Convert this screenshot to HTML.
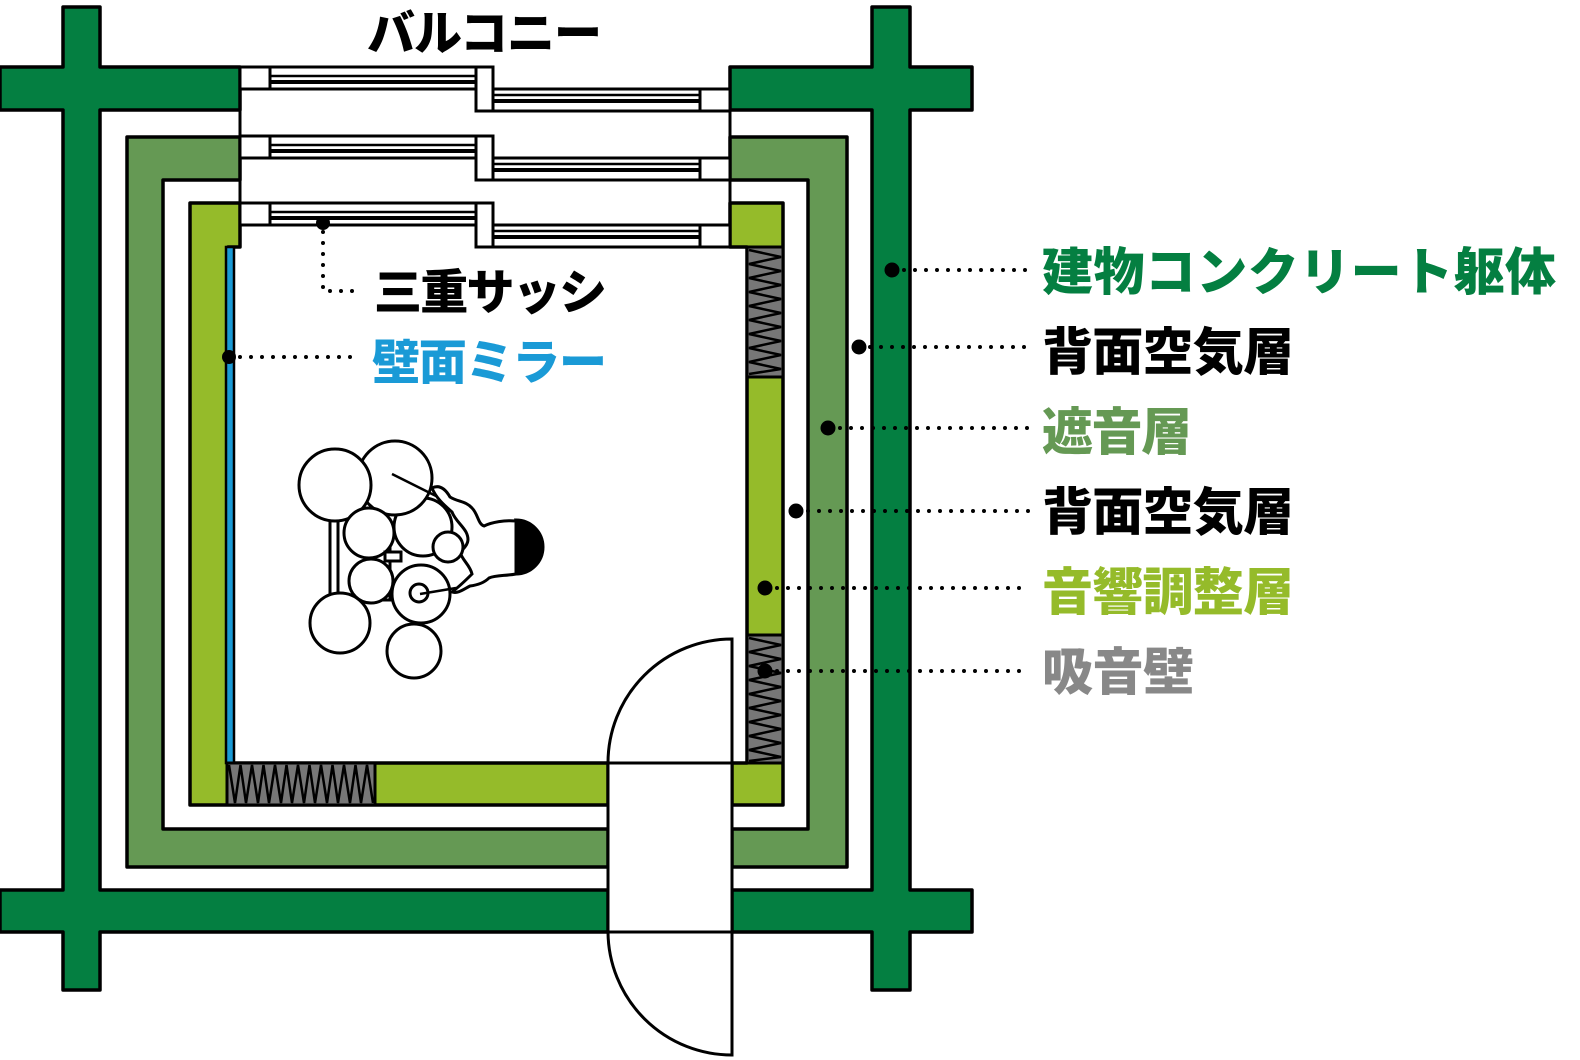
<!DOCTYPE html>
<html><head><meta charset="utf-8"><style>
html,body{margin:0;padding:0;background:#fff;}
svg{display:block;}
text{font-family:"Liberation Sans","Noto Sans CJK JP",sans-serif;font-weight:900;}
</style></head><body>
<svg width="1580" height="1060" viewBox="0 0 1580 1060" xmlns="http://www.w3.org/2000/svg">
<g stroke="#000" stroke-width="3.5" stroke-linejoin="round">
<path fill="#047f41" d="M63,7 H100 V67 H240 V110 H100 V890 H608 V932 H100 V990 H63 V932 H0 V890 H63 V110 H0 V67 H63 Z"/>
<path fill="#047f41" d="M872,7 H910 V67 H972 V110 H910 V890 H972 V932 H910 V990 H872 V932 H732 V890 H872 V110 H730 V67 H872 Z"/>
<path fill="#659954" d="M127,137 H240 V180 H163 V829 H608 V867 H127 Z"/>
<path fill="#659954" d="M730,137 H847 V867 H732 V829 H808 V180 H730 Z"/>
<path fill="#95bb2a" d="M190,203 H240 V247 H228 V763 H608 V805 H190 Z"/>
<path fill="#95bb2a" d="M730,203 H783 V805 H732 V763 H747 V247 H730 Z"/>
</g>
<rect x="226" y="247" width="8" height="516" fill="#1a9ad6" stroke="#000" stroke-width="2.5"/>
<g stroke="#000" stroke-width="3">
<rect x="747" y="247" width="36" height="130" fill="#777"/>
<rect x="747" y="635" width="36" height="128" fill="#777"/>
<rect x="227" y="763" width="148" height="42" fill="#777"/>
</g>
<g fill="none" stroke="#000" stroke-width="2.5">
<path d="M749,250 L781,257 L749,264 L781,271 L749,278 L781,285 L749,292 L781,299 L749,306 L781,313 L749,320 L781,327 L749,334 L781,341 L749,348 L781,355 L749,362 L781,369 L749,374"/>
<path d="M749,638 L781,645 L749,652 L781,659 L749,666 L781,673 L749,680 L781,687 L749,694 L781,701 L749,708 L781,715 L749,722 L781,729 L749,736 L781,743 L749,750 L781,757 L749,761"/>
<path d="M229,765 L235,803 L240.5,765 L246,803 L252,765 L258,803 L263.5,765 L269,803 L275,765 L281,803 L286.5,765 L292,803 L298,765 L304,803 L309.5,765 L315,803 L321,765 L327,803 L332.5,765 L338,803 L344,765 L350,803 L355.5,765 L361,803 L367,765 L373,803"/>
</g>
<g fill="#fff" stroke="#000" stroke-width="3">
<line x1="240" y1="67" x2="240" y2="247"/>
<line x1="730" y1="67" x2="730" y2="247"/>
</g>
<g id="win">
<g fill="#fff" stroke="#000" stroke-width="3">
<rect x="240" y="67" width="236" height="22"/>
<rect x="493" y="89" width="237" height="22"/>
<rect x="476" y="67" width="17" height="44"/>
<line x1="270" y1="67" x2="270" y2="89"/>
<line x1="700" y1="89" x2="700" y2="111"/>
</g>
<line x1="270" y1="76" x2="476" y2="76" stroke="#000" stroke-width="2.5"/>
<line x1="270" y1="82" x2="476" y2="82" stroke="#000" stroke-width="4"/>
<line x1="493" y1="95" x2="700" y2="95" stroke="#000" stroke-width="2.5"/>
<line x1="493" y1="101" x2="700" y2="101" stroke="#000" stroke-width="4"/>
</g>
<use href="#win" y="69"/>
<use href="#win" y="136"/>
<g fill="#fff" stroke="#000" stroke-width="3">
<rect x="608" y="763" width="124" height="169"/>
<path d="M732,639 A124,124 0 0 0 608,763 H732 Z"/>
<path d="M732,1055 A124,124 0 0 1 608,932 H732 Z"/>
</g>
<g fill="#fff" stroke="#000" stroke-width="3">
<line x1="330" y1="518" x2="330" y2="600"/>
<line x1="338" y1="518" x2="338" y2="600"/>
<line x1="390" y1="520" x2="390" y2="600"/>
<line x1="330" y1="600" x2="395" y2="600"/>
<circle cx="423" cy="527" r="29"/>
<circle cx="395" cy="478" r="37"/>
<circle cx="335" cy="485" r="36"/>
<circle cx="369" cy="533" r="25"/>
<circle cx="371" cy="581" r="22"/>
<rect x="385" y="552" width="16" height="9"/>
<circle cx="340" cy="623" r="30"/>
<circle cx="421" cy="594" r="29"/>
<circle cx="419" cy="593" r="9"/>
<circle cx="414" cy="651" r="27"/>
<path d="M432,488 C440,484 446,490 450,497 C458,502 466,501 472,508 C478,514 478,524 484,526 C492,522 505,520 516,521 L516,574 C505,576 496,575 489,578 C484,583 478,585 470,586 C464,589 458,594 452,592 C460,586 466,580 472,574 C470,565 462,560 460,552 C468,545 470,540 466,532 C462,525 455,520 452,512 C444,505 436,498 432,488 Z"/>
<circle cx="448" cy="547" r="15"/>
<line x1="392" y1="474" x2="436" y2="496" stroke-width="2.5"/>
<line x1="420" y1="594" x2="456" y2="588" stroke-width="2.5"/>
<path d="M516,520 A27,27 0 0 1 516,574 C520,560 520,534 516,520 Z" fill="#000"/>
</g>
<g stroke="#000" stroke-width="4" stroke-linecap="round" stroke-dasharray="0 11" fill="none">
<path d="M323,232 V291 H360"/>
<line x1="240" y1="357" x2="360" y2="357"/>
<line x1="904" y1="270" x2="1030" y2="270"/>
<line x1="870" y1="347" x2="1030" y2="347"/>
<line x1="840" y1="428" x2="1030" y2="428"/>
<line x1="808" y1="511" x2="1030" y2="511"/>
<line x1="777" y1="588" x2="1030" y2="588"/>
<line x1="777" y1="671" x2="1030" y2="671"/>
</g>
<g fill="#000">
<circle cx="323" cy="223" r="7"/>
<circle cx="229" cy="357" r="7"/>
<circle cx="892" cy="270" r="7.5"/>
<circle cx="859" cy="347" r="7.5"/>
<circle cx="828" cy="428" r="7.5"/>
<circle cx="796" cy="511" r="7.5"/>
<circle cx="765" cy="588" r="7.5"/>
<circle cx="765" cy="671" r="7.5"/>
</g>
<text x="367" y="50" font-size="48" fill="#000" textLength="235" lengthAdjust="spacing">バルコニー</text>
<text x="374" y="309" font-size="48" fill="#000" textLength="233" lengthAdjust="spacing">三重サッシ</text>
<text x="372" y="379" font-size="48" fill="#1a9ad6" textLength="235" lengthAdjust="spacing">壁面ミラー</text>
<text x="1042" y="290" font-size="51" fill="#047f41" textLength="514" lengthAdjust="spacing">建物コンクリート躯体</text>
<text x="1042" y="370" font-size="51" fill="#000" textLength="252" lengthAdjust="spacing">背面空気層</text>
<text x="1042" y="450" font-size="51" fill="#659954" textLength="150" lengthAdjust="spacing">遮音層</text>
<text x="1042" y="530" font-size="51" fill="#000" textLength="252" lengthAdjust="spacing">背面空気層</text>
<text x="1042" y="610" font-size="51" fill="#95bb2a" textLength="252" lengthAdjust="spacing">音響調整層</text>
<text x="1042" y="690" font-size="51" fill="#888" textLength="152" lengthAdjust="spacing">吸音壁</text>
</svg>
</body></html>
